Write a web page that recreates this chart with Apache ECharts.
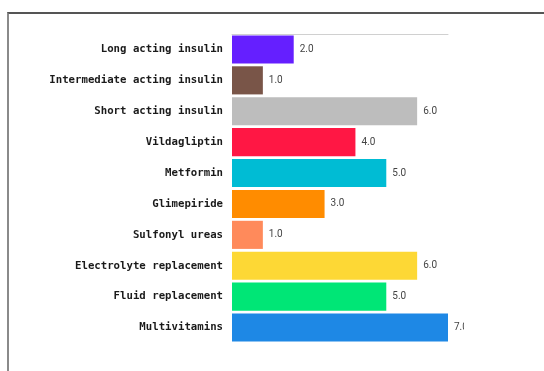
<!DOCTYPE html>
<html>
<head>
<meta charset="utf-8">
<script src="https://cdn.jsdelivr.net/npm/echarts@6/dist/echarts.min.js"></script>
<style>
  html, body { margin: 0; padding: 0; background: #fff; }
  body { width: 544px; height: 371px; position: relative; overflow: hidden; }
  #frame {
    position: absolute; left: 7px; top: 12px; width: 560px; height: 400px;
    border-left: 2px solid #8a8a8a; border-top: 2px solid #555;
    box-sizing: border-box;
  }
  #chart { position: absolute; left: 0; top: 0; width: 464px; height: 371px; }
</style>
</head>
<body>
<div id="frame"></div>
<div id="chart"></div>
<script>
// Medication groups, top to bottom
const categories = [
  'Long acting insulin',
  'Intermediate acting insulin',
  'Short acting insulin',
  'Vildagliptin',
  'Metformin',
  'Glimepiride',
  'Sulfonyl ureas',
  'Electrolyte replacement',
  'Fluid replacement',
  'Multivitamins'
];
const counts = [2, 1, 6, 4, 5, 3, 1, 6, 5, 7];
const barColors = [
  '#651FFF', '#795548', '#BDBDBD', '#FF1744', '#00BCD4',
  '#FF8C00', '#FF8A5B', '#FDD835', '#00E676', '#1E88E5'
];

const chart = echarts.init(document.getElementById('chart'));
chart.setOption({
  animation: false,
  grid: { left: 232, top: 34, width: 216, height: 309 },
  xAxis: {
    type: 'value', position: 'top', min: 0, max: 7,
    axisLine: { show: true, lineStyle: { color: '#d0d0d0', width: 1 } },
    axisTick: { show: false }, axisLabel: { show: false },
    splitLine: { show: false }
  },
  yAxis: {
    type: 'category', inverse: true, data: categories,
    axisLine: { show: false }, axisTick: { show: false },
    axisLabel: {
      margin: 9, color: '#1a1a1a', fontFamily: 'DejaVu Sans Mono',
      fontWeight: 'bold', fontSize: 10.7
    }
  },
  series: [{
    type: 'bar',
    barCategoryGap: '9%',
    data: counts.map((v, i) => ({ value: v, itemStyle: { color: barColors[i] } })),
    label: {
      show: true, position: 'right', distance: 6,
      color: '#444', fontFamily: 'Roboto', fontSize: 10,
      formatter: p => p.value.toFixed(1)
    }
  }]
});
</script>
</body>
</html>
